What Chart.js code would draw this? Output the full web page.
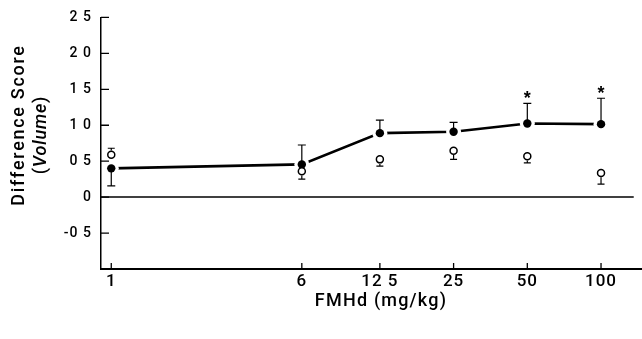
<!DOCTYPE html>
<html>
<head>
<meta charset="utf-8">
<script src="https://cdn.jsdelivr.net/npm/chart.js@4/dist/chart.umd.min.js"></script>
<style>
  html, body { margin: 0; padding: 0; background: #fff; }
  #wrap { width: 642px; height: 339px; }
</style>
</head>
<body>
<div id="wrap"><canvas id="chartDose"></canvas></div>
<script>
// dose (mg/kg) on a log axis
const doses = [1, 6, 12.5, 25, 50, 100];
const doseLabels = ['1', '6', '12 5', '25', '50', '100'];

// filled circles (joined), end of the one-sided error bar, significance marks
const filledMean = [0.40, 0.455, 0.89, 0.91, 1.025, 1.015];
const filledBarEnd = [0.155, 0.725, 1.07, 1.04, 1.305, 1.375];
const filledStar = ['', '', '', '', '*', '*'];

// open circles, end of the one-sided error bar
const openMean = [0.59, 0.36, 0.525, 0.645, 0.57, 0.335];
const openBarEnd = [0.68, 0.25, 0.43, 0.525, 0.475, 0.18];

// y ticks
const yTicks = [-1, -0.5, 0, 0.5, 1, 1.5, 2, 2.5];
const yTickLabels = ['', '-0 5', '0', '0 5', '1 0', '1 5', '2 0', '2 5'];

// zero reference line, x extent
const zeroLineX = [0.908, 136];

const INK = '#000';
const FONT = "Roboto, 'Liberation Sans', Arial, sans-serif";
const W = '500 ';

const pts = (ys) => doses.map((d, i) => ({ x: d, y: ys[i] }));

/* error bars, stars, inward ticks, axis titles */
const markPlugin = {
    id: 'marks',
    beforeDraw(chart) {
        chart.ctx.letterSpacing = '1px';
    },
    afterDatasetsDraw(chart) {
        const { ctx, scales: { x, y } } = chart;
        const bar = (px, py, pe, gap, half) => {
            const dir = Math.sign(pe - py);
            ctx.beginPath();
            ctx.moveTo(px, py + dir * gap);
            ctx.lineTo(px, pe);
            ctx.moveTo(px - half, pe);
            ctx.lineTo(px + half, pe);
            ctx.stroke();
        };
        ctx.save();
        ctx.strokeStyle = INK;
        ctx.lineWidth = 1.2;
        doses.forEach((d, i) => {
            const px = x.getPixelForValue(d);
            bar(px, y.getPixelForValue(filledMean[i]), y.getPixelForValue(filledBarEnd[i]), 0, 4);
            bar(px, y.getPixelForValue(openMean[i]), y.getPixelForValue(openBarEnd[i]), 4.3, 3.5);
        });
        // asterisks above the bars
        ctx.fillStyle = INK;
        ctx.font = "bold 18px 'Liberation Sans', Arial, sans-serif";
        ctx.textAlign = 'center';
        ctx.textBaseline = 'alphabetic';
        ctx.letterSpacing = '0px';
        doses.forEach((d, i) => {
            if (!filledStar[i]) return;
            ctx.fillText(filledStar[i], x.getPixelForValue(d), y.getPixelForValue(filledBarEnd[i]) + 1);
        });
        ctx.restore();
    },
    afterDraw(chart) {
        const { ctx, chartArea: a, scales: { x, y } } = chart;
        ctx.save();
        ctx.strokeStyle = INK;
        ctx.lineWidth = 1.3;
        ctx.beginPath();
        y.ticks.forEach(t => {
            if (t.value === y.min) return;
            const py = y.getPixelForValue(t.value);
            ctx.moveTo(a.left, py);
            ctx.lineTo(a.left + 8, py);
        });
        x.ticks.forEach(t => {
            const px = x.getPixelForValue(t.value);
            ctx.moveTo(px, a.bottom);
            ctx.lineTo(px, a.bottom - 6);
        });
        ctx.stroke();

        ctx.fillStyle = INK;
        ctx.textBaseline = 'middle';
        ctx.textAlign = 'center';

        // x title
        ctx.letterSpacing = '1.2px';
        ctx.font = W + '18px ' + FONT;
        ctx.fillText('FMHd (mg/kg)', 381, 301);

        // y title, two lines, "Volume" in italic
        ctx.letterSpacing = '1.7px';
        ctx.translate(19, 125);
        ctx.rotate(-Math.PI / 2);
        ctx.fillText('Difference Score', 0, 0);

        ctx.setTransform(1, 0, 0, 1, 0, 0);
        ctx.translate(41, 135);
        ctx.rotate(-Math.PI / 2);
        ctx.letterSpacing = '0.8px';
        const parts = [['(', W + '18px '], ['Volume', 'italic ' + W + '18px '], [')', W + '18px ']];
        let w = 0;
        parts.forEach(p => { ctx.font = p[1] + FONT; w += ctx.measureText(p[0]).width; });
        let cx = -w / 2;
        ctx.textAlign = 'left';
        parts.forEach(p => {
            ctx.font = p[1] + FONT;
            ctx.fillText(p[0], cx, 0);
            cx += ctx.measureText(p[0]).width;
        });
        ctx.restore();
    }
};

new Chart(document.getElementById('chartDose'), {
    type: 'scatter',
    data: {
        datasets: [
            {
                label: 'open',
                data: pts(openMean),
                showLine: false,
                pointRadius: 3.5,
                pointBackgroundColor: '#fff',
                pointBorderColor: INK,
                pointBorderWidth: 1.5,
                order: 0
            },
            {
                label: 'filled',
                data: pts(filledMean),
                showLine: false,
                pointRadius: 4.2,
                pointBackgroundColor: INK,
                pointBorderColor: INK,
                pointBorderWidth: 0,
                order: 1
            },
            {
                label: 'halo',
                data: pts(filledMean),
                showLine: false,
                pointRadius: 7.5,
                pointBackgroundColor: '#fff',
                pointBorderWidth: 0,
                order: 2
            },
            {
                label: 'line',
                data: pts(filledMean),
                showLine: true,
                borderColor: INK,
                borderWidth: 2.6,
                pointRadius: 0,
                tension: 0,
                order: 3
            },
            {
                label: 'zero',
                data: zeroLineX.map(v => ({ x: v, y: 0 })),
                showLine: true,
                borderColor: INK,
                borderWidth: 1.5,
                pointRadius: 0,
                order: 4
            }
        ]
    },
    options: {
        responsive: true,
        maintainAspectRatio: false,
        animation: false,
        events: [],
        layout: { autoPadding: false, padding: { top: 15, right: 0, bottom: 0, left: 0 } },
        plugins: {
            legend: { display: false },
            tooltip: { enabled: false }
        },
        scales: {
            x: {
                type: 'logarithmic',
                min: 0.908,
                max: 147,
                afterBuildTicks: axis => { axis.ticks = doses.map(v => ({ value: v })); },
                afterFit: axis => {
                    axis.height = 70;
                    axis.paddingLeft = 0;
                    axis.paddingRight = 0;
                },
                grid: { display: false, drawTicks: false },
                border: { display: true, color: INK, width: 2 },
                ticks: {
                    autoSkip: false,
                    maxRotation: 0,
                    padding: 3,
                    color: INK,
                    font: { family: FONT, size: 17, weight: '500' },
                    callback: (v, i) => doseLabels[i]
                }
            },
            y: {
                type: 'linear',
                min: -1,
                max: 2.5,
                afterBuildTicks: axis => { axis.ticks = yTicks.map(v => ({ value: v })); },
                afterFit: axis => { axis.width = 101; },
                grid: { display: false, drawTicks: false },
                border: { display: true, color: INK, width: 1.5 },
                ticks: {
                    padding: 9,
                    color: INK,
                    font: { family: FONT, size: 14, weight: '500' },
                    callback: (v, i) => yTickLabels[i]
                }
            }
        }
    },
    plugins: [markPlugin]
});
</script>
</body>
</html>
